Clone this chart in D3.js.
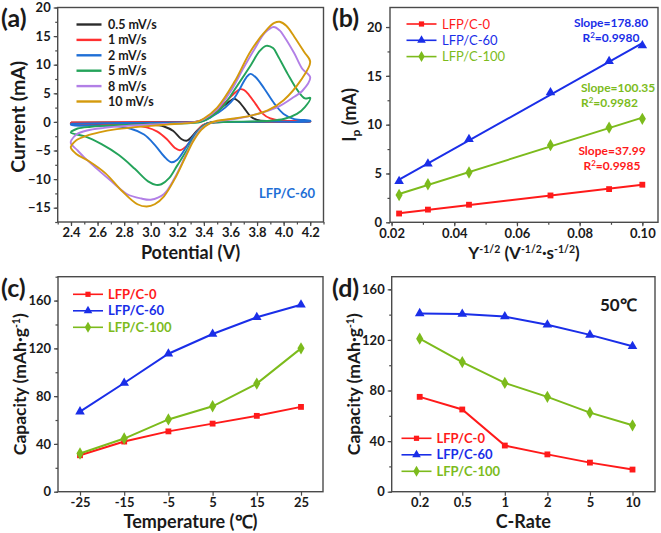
<!DOCTYPE html>
<html><head><meta charset="utf-8">
<script src="https://cdn.jsdelivr.net/npm/d3@7"></script>
<style>
body{margin:0;background:#fff}
svg text{font-family:Lato,'Open Sans',sans-serif;font-weight:700;fill:#1a1a1a}
</style>
</head><body>
<svg id="chart" width="661" height="533"></svg>
<script>
// ---------------- DATA ----------------
// (a) cyclic voltammetry, LFP/C-60, [potential V, current mA] in scan order
const cvRates = ["0.5 mV/s","1 mV/s","2 mV/s","5 mV/s","8 mV/s","10 mV/s"];
const cv05 = [[2.4,-0.12],[2.8,-0.08],[3.2,-0.05],[3.33,-0.02],[3.4,0.3],[3.47,1.2],[3.54,2.6],[3.6,3.7],[3.63,4.05],[3.66,3.6],[3.7,2.5],[3.75,1.0],[3.8,0.35],[3.9,0.15],[4.2,0.1],
  [4.2,0.05],[3.9,0.02],[3.6,-0.02],[3.45,-0.1],[3.4,-0.5],[3.35,-1.5],[3.3,-2.8],[3.27,-3.3],[3.23,-3.0],[3.17,-1.6],[3.1,-0.8],[3.0,-0.45],[2.8,-0.32],[2.4,-0.3]];
const cv1 = [[2.4,-0.1],[2.8,-0.07],[3.2,-0.04],[3.34,0],[3.4,0.4],[3.48,1.6],[3.56,3.4],[3.62,4.8],[3.67,5.7],[3.7,5.6],[3.74,4.7],[3.79,3.1],[3.84,1.5],[3.9,0.6],[4.0,0.2],[4.2,0.1],
  [4.2,0.05],[3.9,0.02],[3.6,-0.02],[3.45,-0.12],[3.39,-0.6],[3.33,-2.2],[3.27,-4.2],[3.22,-4.95],[3.18,-4.5],[3.12,-3.0],[3.05,-1.7],[2.97,-0.95],[2.85,-0.55],[2.6,-0.35],[2.4,-0.3]];
const cv2 = [[2.4,-0.3],[2.8,-0.2],[3.2,-0.1],[3.35,-0.02],[3.42,0.4],[3.5,1.5],[3.56,2.5],[3.63,4.2],[3.68,6.2],[3.72,7.8],[3.75,8.4],[3.79,7.8],[3.855,5.8],[3.93,3.2],[4.0,1.4],[4.08,0.5],[4.2,0.2],
  [4.2,0.1],[3.9,0.05],[3.6,-0.02],[3.45,-0.15],[3.4,-0.6],[3.33,-2.2],[3.27,-4.3],[3.2,-6.6],[3.155,-7.05],[3.1,-6.0],[3.03,-4.0],[2.95,-2.2],[2.85,-1.2],[2.7,-0.7],[2.4,-0.5]];
const cv5 = [[2.4,-1.7],[2.45,-1.15],[2.55,-0.85],[2.7,-0.6],[2.9,-0.45],[3.1,-0.35],[3.3,-0.2],[3.38,0],[3.45,0.8],[3.55,2.9],[3.65,6.3],[3.755,10.0],[3.82,12.4],[3.868,13.3],[3.92,12.9],[3.955,11.6],[4.03,8.4],[4.105,5.5],[4.16,4.1],[4.2,4.2],
  [4.16,2.6],[4.1,1.4],[4.0,0.5],[3.9,0.2],[3.7,0.05],[3.5,-0.05],[3.43,-0.3],[3.38,-1.0],[3.33,-2.6],[3.27,-5.0],[3.2,-7.6],[3.14,-9.8],[3.08,-10.9],[3.04,-11.0],[2.98,-10.4],[2.88,-8.2],[2.76,-5.8],[2.63,-3.9],[2.5,-2.5],[2.4,-1.9]];
const cv8 = [[2.4,-3.3],[2.44,-2.2],[2.52,-1.5],[2.65,-1.05],[2.82,-0.7],[3.0,-0.45],[3.2,-0.25],[3.33,-0.05],[3.4,0.5],[3.5,2.2],[3.6,5.3],[3.7,9.5],[3.78,12.7],[3.86,15.6],[3.925,16.6],[3.97,16.0],[4.005,14.9],[4.08,12.0],[4.14,9.3],[4.2,7.8],
  [4.14,5.4],[4.08,4.4],[3.955,2.6],[3.755,1.1],[3.6,0.4],[3.5,0.1],[3.44,-0.3],[3.38,-1.2],[3.32,-3.2],[3.26,-6.0],[3.18,-9.8],[3.1,-12.6],[3.0,-13.6],[2.93,-13.4],[2.82,-12.6],[2.7,-10.3],[2.6,-8.3],[2.5,-6.2],[2.45,-5.0],[2.4,-3.8]];
const cv10 = [[2.4,-4.2],[2.44,-3.2],[2.52,-2.4],[2.62,-1.8],[2.72,-1.35],[2.87,-0.95],[3.0,-0.7],[3.12,-0.47],[3.25,-0.25],[3.34,-0.05],[3.4,0.6],[3.5,2.5],[3.63,7.0],[3.755,12.5],[3.88,16.3],[3.93,17.3],[3.97,17.5],[4.02,16.8],[4.08,14.9],[4.155,12.2],[4.2,10.5],
  [4.13,7.3],[4.0,3.8],[3.88,2.0],[3.755,1.1],[3.6,0.5],[3.5,0.2],[3.44,-0.3],[3.38,-1.4],[3.32,-3.4],[3.26,-6.2],[3.18,-10.0],[3.1,-13.0],[3.03,-14.4],[2.97,-14.8],[2.9,-14.4],[2.78,-12.0],[2.66,-9.0],[2.53,-6.8],[2.44,-5.6],[2.4,-4.6]];
const cvXTicks = [2.4,2.6,2.8,3.0,3.2,3.4,3.6,3.8,4.0,4.2];
const cvYTicks = [-15,-10,-5,0,5,10,15,20];

// (b) peak current vs sqrt(scan rate)
const sqrtRate = [0.0224,0.0316,0.0447,0.0707,0.0894,0.1];
const ipC0   = [0.9,1.3,1.8,2.75,3.4,3.85];
const ipC60  = [4.2,6.0,8.5,13.3,16.5,18.1];
const ipC100 = [2.8,3.9,5.1,7.9,9.7,10.6];
const slopeText = ["Slope=37.99","Slope=178.80","Slope=100.35"];
const r2Text    = ["0.9985","0.9980","0.9982"];
const ipXTicks = [0.02,0.04,0.06,0.08,0.10];
const ipYTicks = [0,5,10,15,20];

// (c) capacity vs temperature
const temps = ["-25","-15","-5","5","15","25"];
const tempC0   = [30.5,42,50.5,57,63.5,71];
const tempC60  = [67,91,115.5,132,146,156.5];
const tempC100 = [32,44.5,60.5,71.5,90.5,120];

// (d) capacity vs C-rate at 50 °C
const cRates = ["0.2","0.5","1","2","5","10"];
const rateC0   = [75,65,36.5,29.5,23,17.5];
const rateC60  = [141,140.5,138.5,132,124,115];
const rateC100 = [121,102.5,86,75,62.5,52.5];
const capYTicks = [0,40,80,120,160];

const seriesNames = ["LFP/C-0","LFP/C-60","LFP/C-100"];

// ---------------- STYLE ----------------
const cvColors = ["#2b2b2b","#ff3030","#1f6fd6","#24a35a","#b27fe6","#d49a0c"];
const sColors = ["#ff1a1a","#1a2ee8","#7cbb1c"];
const sShapes = [d3.symbolSquare, d3.symbolTriangle, d3.symbolDiamond];
const sSizes = [34, 40, 44];
const frameColor = "#4a4a4a";
const tickFs = 13;

const svg = d3.select("#chart");

function frame(p){
  svg.append("rect").attr("x",p.l).attr("y",p.t).attr("width",p.r-p.l).attr("height",p.b-p.t)
    .attr("fill","none").attr("stroke",frameColor).attr("stroke-width",1.4);
}
function styleAxis(g){
  g.select(".domain").remove();
  g.selectAll("line").attr("stroke",frameColor).attr("stroke-width",1.2);
  g.selectAll("text").style("font-size",tickFs+"px").attr("fill","#1a1a1a");
}
function panelLabel(txt,x,y){
  svg.append("text").attr("x",x).attr("y",y).text(txt).style("font-size","25px");
}

// ---------------- (a) ----------------
const A = {l:57.7,r:323.5,t:7.5,b:222};
const ax = d3.scaleLinear().domain([2.3,4.3]).range([A.l,A.r]);
const ay = d3.scaleLinear().domain([-17.5,20]).range([A.b,A.t]);
frame(A);
let g = svg.append("g").attr("transform",`translate(0,${A.b})`)
  .call(d3.axisBottom(ax).tickValues(d3.range(2.3,4.31,0.1)).tickSize(2.5).tickFormat(""));
styleAxis(g);
g = svg.append("g").attr("transform",`translate(0,${A.b})`)
  .call(d3.axisBottom(ax).tickValues(cvXTicks).tickSize(4).tickPadding(2).tickFormat(d3.format(".1f")));
styleAxis(g);
g = svg.append("g").attr("transform",`translate(${A.l},0)`)
  .call(d3.axisLeft(ay).tickValues(d3.range(-17.5,20.1,2.5)).tickSize(2.5).tickFormat(""));
styleAxis(g);
g = svg.append("g").attr("transform",`translate(${A.l},0)`)
  .call(d3.axisLeft(ay).tickValues(cvYTicks).tickSize(4).tickPadding(3));
styleAxis(g);

const cvLine = d3.line().x(d=>ax(d[0])).y(d=>ay(d[1])).curve(d3.curveCatmullRom.alpha(0.5));
const cvSets = [cv05,cv1,cv2,cv5,cv8,cv10];
cvSets.forEach((s,i)=>{
  svg.append("path").attr("d",cvLine(s.concat([s[0]]))).attr("fill","none")
    .attr("stroke",cvColors[i]).attr("stroke-width",1.9).attr("stroke-linejoin","round");
});
cvRates.forEach((r,i)=>{
  const yy = 24.5 + i*15.4;
  svg.append("line").attr("x1",76.5).attr("x2",101.5).attr("y1",yy).attr("y2",yy)
    .attr("stroke",cvColors[i]).attr("stroke-width",2.4);
  svg.append("text").attr("x",108).attr("y",yy+4.5).text(r).style("font-size","12.5px");
});
svg.append("text").attr("x",259).attr("y",198).text("LFP/C-60").style("font-size","13px").style("fill","#1f6fd6");
svg.append("text").attr("transform",`translate(25,${(A.t+A.b)/2+2}) rotate(-90)`).attr("text-anchor","middle")
  .text("Current (mA)").style("font-size","19.5px");
svg.append("text").attr("x",(A.l+A.r)/2).attr("y",A.b+36.5).attr("text-anchor","middle")
  .text("Potential (V)").style("font-size","18px");
panelLabel("(a)",1,27);

// ---------------- (b) ----------------
const B = {l:390,r:658,t:7.5,b:222.3};
const bx = d3.scaleLinear().domain([0.0195,0.105]).range([B.l,B.r]);
const by = d3.scaleLinear().domain([0,22]).range([B.b,B.t]);
frame(B);
g = svg.append("g").attr("transform",`translate(0,${B.b})`)
  .call(d3.axisBottom(bx).tickValues(d3.range(0.02,0.1051,0.01)).tickSize(2.5).tickFormat(""));
styleAxis(g);
g = svg.append("g").attr("transform",`translate(0,${B.b})`)
  .call(d3.axisBottom(bx).tickValues(ipXTicks).tickSize(4).tickPadding(2.5).tickFormat(d3.format(".2f")));
styleAxis(g);
g = svg.append("g").attr("transform",`translate(${B.l},0)`)
  .call(d3.axisLeft(by).tickValues(d3.range(0,22.1,2.5)).tickSize(2.5).tickFormat(""));
styleAxis(g);
g = svg.append("g").attr("transform",`translate(${B.l},0)`)
  .call(d3.axisLeft(by).tickValues(ipYTicks).tickSize(4).tickPadding(4));
styleAxis(g);

const ipSets = [ipC0,ipC60,ipC100];
ipSets.forEach((ys,k)=>{
  const n = ys.length, mx = d3.mean(sqrtRate), my = d3.mean(ys);
  const sl = d3.sum(sqrtRate.map((x,i)=>(x-mx)*(ys[i]-my))) / d3.sum(sqrtRate.map(x=>(x-mx)*(x-mx)));
  const ic = my - sl*mx;
  const x0 = sqrtRate[0], x1 = sqrtRate[n-1];
  svg.append("line").attr("x1",bx(x0)).attr("y1",by(ic+sl*x0)).attr("x2",bx(x1)).attr("y2",by(ic+sl*x1))
    .attr("stroke",sColors[k]).attr("stroke-width",2);
  ys.forEach((v,i)=>{
    svg.append("path").attr("d",d3.symbol(sShapes[k],sSizes[k])())
      .attr("transform",`translate(${bx(sqrtRate[i])},${by(v)})`).attr("fill",sColors[k]);
  });
});
function slopeNote(k,x,y,anchor){
  svg.append("text").attr("x",x).attr("y",y).attr("text-anchor",anchor).text(slopeText[k])
    .style("font-size","12px").style("fill",sColors[k]);
  const t = svg.append("text").attr("x",x).attr("y",y+14.5).attr("text-anchor",anchor)
    .style("font-size","12px").style("fill",sColors[k]);
  t.append("tspan").text("R");
  t.append("tspan").text("2").attr("dy",-4).style("font-size","8px");
  t.append("tspan").text("=" + r2Text[k]).attr("dy",4);
}
slopeNote(1,611,27,"middle");
slopeNote(2,581,92,"start");
slopeNote(0,612,155,"middle");
// legend b
seriesNames.forEach((nm,k)=>{
  const yy = 24 + k*16.3;
  svg.append("line").attr("x1",406.5).attr("x2",436.5).attr("y1",yy).attr("y2",yy)
    .attr("stroke",sColors[k]).attr("stroke-width",1.6);
  svg.append("path").attr("d",d3.symbol(sShapes[k],sSizes[k]*0.8)()).attr("transform",`translate(421.5,${yy})`).attr("fill",sColors[k]);
  svg.append("text").attr("x",442).attr("y",yy+4.5).text(nm).style("font-size","13px").style("font-weight","400").style("fill",sColors[k]);
});
{
  const t = svg.append("text").attr("transform",`translate(356,${(B.t+B.b)/2}) rotate(-90)`).attr("text-anchor","middle").style("font-size","18px");
  t.append("tspan").text("I");
  t.append("tspan").text("p").attr("dy",4).style("font-size","12px");
  t.append("tspan").text(" (mA)").attr("dy",-4);
  const u = svg.append("text").attr("x",(B.l+B.r)/2).attr("y",B.b+37).attr("text-anchor","middle").style("font-size","17px");
  u.append("tspan").text("Υ");
  u.append("tspan").text("-1/2").attr("dy",-6).style("font-size","10.5px");
  u.append("tspan").text(" (V").attr("dy",6);
  u.append("tspan").text("-1/2").attr("dy",-6).style("font-size","10.5px");
  u.append("tspan").text("·s").attr("dy",6);
  u.append("tspan").text("-1/2").attr("dy",-6).style("font-size","10.5px");
  u.append("tspan").text(")").attr("dy",6);
}
panelLabel("(b)",332,27);

// ---------------- (c) & (d) ----------------
function capPanel(P, cats, sets, ymax, padL, padR, legendPos, xTitle){
  const x = d3.scalePoint().domain(cats).range([P.l+padL,P.r-padR]);
  const y = d3.scaleLinear().domain([0,ymax]).range([P.b,P.t]);
  frame(P);
  let gg = svg.append("g").attr("transform",`translate(0,${P.b})`)
    .call(d3.axisBottom(x).tickSize(4).tickPadding(2));
  styleAxis(gg);
  gg = svg.append("g").attr("transform",`translate(${P.l},0)`)
    .call(d3.axisLeft(y).tickValues(d3.range(0,ymax+0.1,20)).tickSize(2.5).tickFormat(""));
  styleAxis(gg);
  gg = svg.append("g").attr("transform",`translate(${P.l},0)`)
    .call(d3.axisLeft(y).tickValues(capYTicks).tickSize(4).tickPadding(3));
  styleAxis(gg);
  const ln = d3.line().x((d,i)=>x(cats[i])).y(d=>y(d));
  sets.forEach((s,k)=>{
    svg.append("path").attr("d",ln(s)).attr("fill","none").attr("stroke",sColors[k]).attr("stroke-width",2);
    s.forEach((v,i)=>{
      svg.append("path").attr("d",d3.symbol(sShapes[k],sSizes[k])())
        .attr("transform",`translate(${x(cats[i])},${y(v)})`).attr("fill",sColors[k]);
    });
  });
  seriesNames.forEach((nm,k)=>{
    const yy = legendPos[1] + k*16.5;
    svg.append("line").attr("x1",legendPos[0]).attr("x2",legendPos[0]+30).attr("y1",yy).attr("y2",yy)
      .attr("stroke",sColors[k]).attr("stroke-width",1.6);
    svg.append("path").attr("d",d3.symbol(sShapes[k],sSizes[k]*0.8)()).attr("transform",`translate(${legendPos[0]+15},${yy})`).attr("fill",sColors[k]);
    svg.append("text").attr("x",legendPos[0]+35).attr("y",yy+4.5).text(nm).style("font-size","13px").style("fill",sColors[k]);
  });
  const t = svg.append("text").attr("transform",`translate(${P.l-32},${(P.t+P.b)/2}) rotate(-90)`).attr("text-anchor","middle").style("font-size","17.5px");
  t.append("tspan").text("Capacity (mAh·g");
  t.append("tspan").text("-1").attr("dy",-6).style("font-size","10.5px");
  t.append("tspan").text(")").attr("dy",6);
  svg.append("text").attr("x",(P.l+P.r)/2).attr("y",P.b+36.5).attr("text-anchor","middle").text(xTitle).style("font-size","18px");
}
const C = {l:58,r:323,t:276.7,b:491.7};
capPanel(C, temps, [tempC0,tempC60,tempC100], 180, 22, 22, [73,294.3], "Temperature (℃)");
panelLabel("(c)",1,297);
const D = {l:391.7,r:655,t:276.7,b:491.7};
capPanel(D, cRates, [rateC0,rateC60,rateC100], 170, 28, 22.5, [401.5,438.3], "C-Rate");
svg.append("text").attr("x",600).attr("y",311).text("50℃").style("font-size","17px");
panelLabel("(d)",332,297);
</script>
</body></html>
